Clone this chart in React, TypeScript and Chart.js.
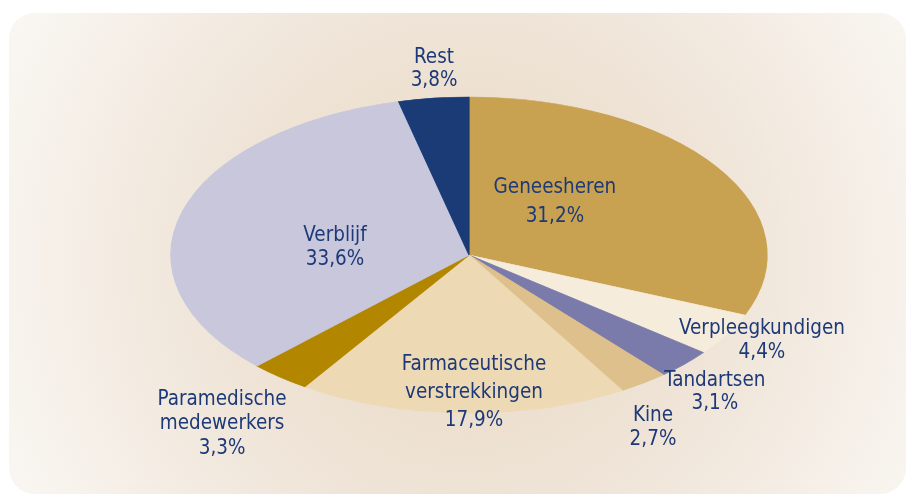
import React, { useEffect, useRef } from "react";
import { Chart, registerables } from "chart.js";

Chart.register(...registerables);

const categories = [
  "Geneesheren",
  "Verpleegkundigen",
  "Tandartsen",
  "Kine",
  "Farmaceutische verstrekkingen",
  "Paramedische medewerkers",
  "Verblijf",
  "Rest",
];
const shares = [31.2, 4.4, 3.1, 2.7, 17.9, 3.3, 33.6, 3.8];
const labelLines = [
  ["Geneesheren"],
  ["Verpleegkundigen"],
  ["Tandartsen"],
  ["Kine"],
  ["Farmaceutische", "verstrekkingen"],
  ["Paramedische", "medewerkers"],
  ["Verblijf"],
  ["Rest"],
];
const sliceColors = [
  "#C8A250",
  "#F6ECDB",
  "#7A7BAA",
  "#DDC08B",
  "#EDD9B4",
  "#B38600",
  "#C8C7DC",
  "#1B3B76",
];

// label placement (style): factors along slice mid-angle on ellipse, extra nudge, line height
const labelLayout = [
  { fx: 0.347, fy: 0.606, dx: 0, lh: 29 },
  { fx: 1.138, fy: 1.069, dx: 0, lh: 23.5 },
  { fx: 1.142, fy: 1.253, dx: 0, lh: 23.5 },
  { fx: 1.055, fy: 1.343, dx: 0, lh: 23.5 },
  { fx: 0, fy: 0.866, dx: 5, lh: 28 },
  { fx: 1.305, fy: 1.381, dx: 0, lh: 24.5 },
  { fx: 0.4674, fy: 0.175, dx: 0, lh: 23.5 },
  { fx: 0.986, fy: 1.19, dx: 0, lh: 23 },
];

const W = 906;
const H = 496;
const CX = 469;
const CY = 255;
const RX = 298;
const RY = 158;
const FONT = '22px "DejaVu Sans Condensed", "Liberation Sans", Arial, sans-serif';
const TEXT_SCALE_X = 0.93;
const TEXT_COLOR = "#1D3977";

const fmt = (v: number) => v.toFixed(1).replace(".", ",") + "%";

const backgroundPlugin = {
  id: "bgPanel",
  beforeDraw(chart: any) {
    const ctx = chart.ctx as CanvasRenderingContext2D;
    ctx.save();
    ctx.fillStyle = "#FFFFFF";
    ctx.fillRect(0, 0, W, H);
    const g = ctx.createRadialGradient(CX, CY + 8, 0, CX, CY + 8, 560);
    g.addColorStop(0, "#E9D9C4");
    g.addColorStop(0.45, "#EFE4D7");
    g.addColorStop(0.75, "#F6F0E9");
    g.addColorStop(1, "#FBF9F6");
    ctx.fillStyle = g;
    ctx.beginPath();
    (ctx as any).roundRect(9, 13, W - 9, H - 15, 26);
    ctx.fill();
    ctx.restore();
  },
};

const ellipsePlugin = {
  id: "ellipse",
  beforeDatasetsDraw(chart: any) {
    const meta = chart.getDatasetMeta(0);
    const arc = meta.data[0];
    if (!arc) return;
    const R = arc.outerRadius;
    const ctx = chart.ctx as CanvasRenderingContext2D;
    ctx.save();
    ctx.translate(CX, CY);
    ctx.scale(RX / R, RY / R);
    ctx.translate(-arc.x, -arc.y);
  },
  afterDatasetsDraw(chart: any) {
    chart.ctx.restore();
  },
  afterDraw(chart: any) {
    const meta = chart.getDatasetMeta(0);
    const ctx = chart.ctx as CanvasRenderingContext2D;
    ctx.save();
    ctx.font = FONT;
    ctx.fillStyle = TEXT_COLOR;
    ctx.textAlign = "center";
    ctx.textBaseline = "middle";
    meta.data.forEach((el: any, i: number) => {
      const a = (el.startAngle + el.endAngle) / 2;
      const L = labelLayout[i];
      const x = CX + RX * L.fx * Math.cos(a) + L.dx;
      const y = CY + RY * L.fy * Math.sin(a);
      const lines = [...labelLines[i], fmt(shares[i])];
      const top = y - ((lines.length - 1) * L.lh) / 2;
      lines.forEach((t, j) => {
        ctx.save();
        ctx.translate(x, top + j * L.lh);
        ctx.scale(TEXT_SCALE_X, 1);
        ctx.fillText(t, 0, 0);
        ctx.restore();
      });
    });
    ctx.restore();
  },
};

export default function App() {
  const ref = useRef<HTMLCanvasElement | null>(null);
  useEffect(() => {
    if (!ref.current) return;
    const chart = new Chart(ref.current, {
      type: "pie",
      data: {
        labels: categories,
        datasets: [
          {
            data: shares,
            backgroundColor: sliceColors,
            borderColor: sliceColors,
            borderWidth: 1,
          },
        ],
      },
      options: {
        responsive: false,
        animation: false,
        events: [],
        layout: { padding: 0 },
        plugins: {
          legend: { display: false },
          tooltip: { enabled: false },
        },
      },
      plugins: [backgroundPlugin, ellipsePlugin],
    });
    return () => chart.destroy();
  }, []);
  return (
    <div style={{ position: "absolute", left: 0, top: 0, width: W, height: H }}>
      <canvas ref={ref} width={W} height={H} style={{ display: "block" }} />
    </div>
  );
}
